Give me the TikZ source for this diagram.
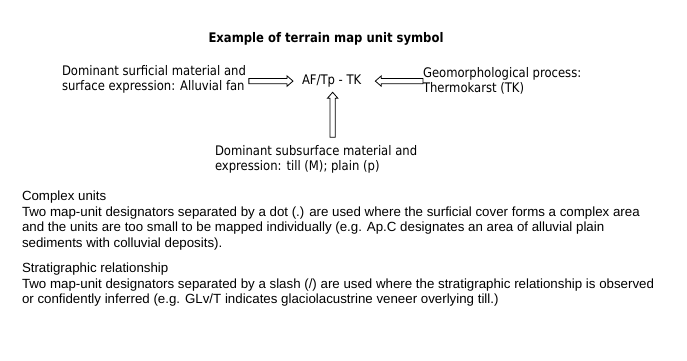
\documentclass[tikz,border=0pt]{standalone}
\usepackage{fontspec}
\setmainfont{Liberation Sans}
\newfontfamily\tah[FakeStretch=0.88]{DejaVu Sans}
\usetikzlibrary{calc}
\tikzset{
  tx/.style={inner sep=0pt, outer sep=0pt, align=left, font=\tah\fontsize{13.2}{15.5}\selectfont},
  ttl/.style={inner sep=0pt, outer sep=0pt, font=\tah\bfseries\fontsize{13.2}{15.5}\selectfont},
  body/.style={inner sep=0pt, outer sep=0pt, align=left, font=\fontsize{13.3}{15.6}\selectfont},
  blockarrow/.style={line width=0.8pt, line join=miter, to path={
    ($(\tikztostart)!2.6pt!90:(\tikztotarget)$)
    -- ($($(\tikztotarget)!6pt!(\tikztostart)$)!2.6pt!90:(\tikztotarget)$)
    -- ($($(\tikztotarget)!6pt!(\tikztostart)$)!5.2pt!90:(\tikztotarget)$)
    -- (\tikztotarget)
    -- ($($(\tikztotarget)!6pt!(\tikztostart)$)!5.2pt!-90:(\tikztotarget)$)
    -- ($($(\tikztotarget)!6pt!(\tikztostart)$)!2.6pt!-90:(\tikztotarget)$)
    -- ($(\tikztostart)!2.6pt!-90:(\tikztotarget)$)
    -- cycle}}
}
\begin{document}
\begin{tikzpicture}[x=1pt,y=-1pt]
\useasboundingbox[fill=white] (0,0) rectangle (687,360);
\node[ttl, anchor=base] (title) at (326,42) {Example of terrain map unit symbol};
\node[tx, anchor=north west] (sl) at (62,65) {Dominant surficial material and\\surface expression: Alluvial fan};
\node[tx, anchor=base west] (sym) at (302,84.5) {AF/Tp - TK};
\node[tx, anchor=north west] (gp) at (423,67) {Geomorphological process:\\Thermokarst (TK)};
\node[tx, anchor=north west] (sub) at (215,145) {Dominant subsurface material and\\expression: till (M); plain (p)};
\draw[blockarrow] ($(sl.east |- sym.center)+(3,0)$) to ($(sym.west)+(-9,0)$);
\draw[blockarrow] ($(gp.west |- sym.center)$) to ($(sym.east)+(14,0)$);
\draw[blockarrow] ($(sym.south)+(1,50)$) to ($(sym.south)+(1,5)$);
\node[body, anchor=north west] (cu) at (22,191) {Complex units\\
Two map-unit designators separated by a dot (.) are used where the surficial cover forms a complex area\\
and the units are too small to be mapped individually (e.g. Ap.C designates an area of alluvial plain\\
sediments with colluvial deposits).};
\node[body, anchor=north west] (sr) at (22,263) {Stratigraphic relationship\\
Two map-unit designators separated by a slash (/) are used where the stratigraphic relationship is observed\\
or confidently inferred (e.g. GLv/T indicates glaciolacustrine veneer overlying till.)};
\end{tikzpicture}
\end{document}
